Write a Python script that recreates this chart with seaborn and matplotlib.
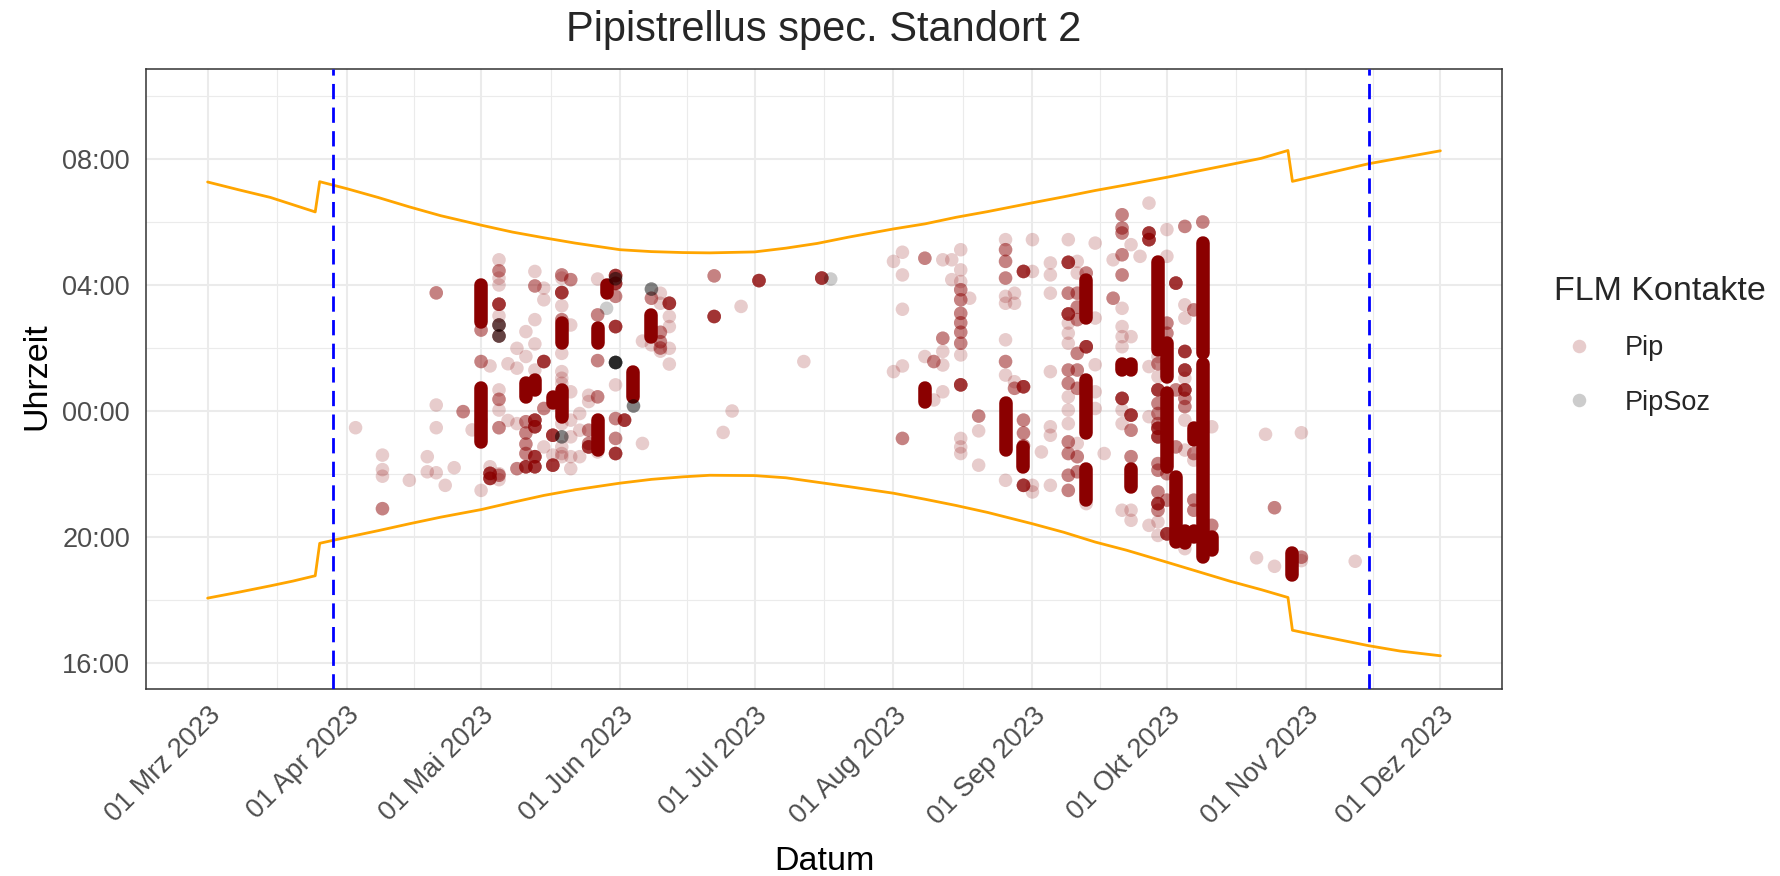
import numpy as np
import pandas as pd
import matplotlib
matplotlib.use("Agg")
import matplotlib.pyplot as plt
import matplotlib.dates as mdates
from matplotlib.lines import Line2D
import seaborn as sns

YEAR = "2023-"

# ---------------- data ----------------
# time axis: hours, times after midnight are shown as 24 + h (00:00 = 24, 04:00 = 28)
sun_dates = ["03-01", "03-08", "03-15", "03-20", "03-25", "03-26", "04-01", "04-08", "04-15",
             "04-22", "05-01", "05-08", "05-15", "05-22", "06-01", "06-08", "06-15", "06-21",
             "07-01", "07-08", "07-15", "07-22", "08-01", "08-08", "08-15", "08-22", "09-01",
             "09-08", "09-15", "09-22", "10-01", "10-08", "10-15", "10-22", "10-28", "10-29",
             "11-01", "11-08", "11-15", "11-22", "12-01"]
sunrise = [31.27, 31.02, 30.78, 30.55, 30.32, 31.28, 31.06, 30.78, 30.48,
           30.20, 29.90, 29.68, 29.50, 29.33, 29.12, 29.06, 29.03, 29.02,
           29.05, 29.17, 29.32, 29.52, 29.78, 29.94, 30.15, 30.33, 30.61,
           30.80, 31.00, 31.18, 31.42, 31.62, 31.82, 32.02, 32.27, 31.29,
           31.39, 31.62, 31.85, 32.03, 32.26]
sunset = [18.06, 18.25, 18.45, 18.60, 18.77, 19.80, 19.99, 20.20, 20.42,
          20.63, 20.87, 21.10, 21.32, 21.50, 21.71, 21.83, 21.91, 21.96,
          21.95, 21.88, 21.74, 21.60, 21.39, 21.20, 21.00, 20.78, 20.42,
          20.15, 19.84, 19.58, 19.20, 18.90, 18.60, 18.33, 18.08, 17.04,
          16.95, 16.75, 16.55, 16.38, 16.23]

season_lines = ["03-29", "11-15"]

month_starts = ["03-01", "04-01", "05-01", "06-01", "07-01", "08-01", "09-01", "10-01", "11-01", "12-01"]
month_labels = ["01 Mrz 2023", "01 Apr 2023", "01 Mai 2023", "01 Jun 2023", "01 Jul 2023",
                "01 Aug 2023", "01 Sep 2023", "01 Okt 2023", "01 Nov 2023", "01 Dez 2023"]
ytick_values = [16, 20, 24, 28, 32]
ytick_labels = ["16:00", "20:00", "00:00", "04:00", "08:00"]
ytick_minor = [18, 22, 26, 30, 34]

# Pip contacts per night: (time, number of overlapping contacts)
pip_nights = ["04-03", "04-09", "04-15", "04-19", "04-21", "04-23", "04-25", "04-27", "04-29",
              "05-01", "05-03", "05-05", "05-07", "05-09", "05-11", "05-13", "05-15", "05-17",
              "05-19", "05-21", "05-23", "05-25", "05-27", "05-31", "06-02", "06-06", "06-08",
              "06-10", "06-12", "06-22", "06-24", "06-26", "06-28", "07-02", "07-12", "07-16",
              "08-01", "08-03", "08-08", "08-10", "08-12", "08-14", "08-16", "08-18", "08-20",
              "08-26", "08-28", "08-30", "09-01", "09-03", "09-05", "09-09", "09-11", "09-13",
              "09-15", "09-17", "09-19", "09-21", "09-23", "09-25", "09-27", "09-29", "10-01",
              "10-03", "10-05", "10-07", "10-09", "10-11", "10-21", "10-23", "10-25", "10-31",
              "11-12"]
pip_contacts = [
    [(23.47, 1)],
    [(22.60, 1), (22.14, 1), (21.93, 1), (20.90, 3)],
    [(21.80, 1)],
    [(22.55, 1), (22.07, 1)],
    [(22.04, 1), (24.19, 1), (23.47, 1), (27.75, 3)],
    [(21.64, 1)],
    [(22.20, 1)],
    [(23.98, 3)],
    [(23.40, 1)],
    [(21.48, 1), (23.70, 1), (26.57, 3), (25.57, 3)],
    [(25.43, 1), (22.23, 1), (21.86, 7), (22.02, 7)],
    [(28.80, 1), (28.22, 1), (28.00, 1), (27.02, 1), (24.67, 1), (24.03, 1), (22.01, 1), (21.82, 1),
     (28.45, 3), (24.37, 3), (23.47, 3), (21.96, 3), (27.39, 7), (26.73, 3), (26.38, 3)],
    [(25.50, 1), (23.70, 1)],
    [(25.99, 1), (25.36, 1), (23.60, 1), (22.17, 3)],
    [(26.52, 1), (25.73, 1), (23.66, 3), (23.30, 3), (22.95, 3), (22.65, 3), (22.23, 7)],
    [(28.43, 1), (26.90, 1), (26.13, 1), (25.30, 1), (27.97, 3), (23.71, 7), (23.50, 7), (22.55, 7), (22.23, 7)],
    [(27.90, 1), (27.53, 1), (22.86, 1), (24.08, 3), (25.57, 7)],
    [(22.60, 1), (23.23, 7), (22.28, 7)],
    [(28.22, 1), (27.34, 1), (25.83, 1), (25.25, 1), (25.04, 1), (24.88, 1), (23.60, 1), (22.86, 1),
     (22.65, 1), (22.55, 1), (28.32, 3), (26.90, 3), (27.76, 7)],
    [(28.17, 3), (26.73, 1), (24.61, 1), (23.71, 1), (23.18, 1), (22.55, 1), (22.17, 1)],
    [(23.92, 1), (23.39, 1), (22.55, 1)],
    [(24.50, 1), (24.30, 1), (23.39, 3), (22.97, 3), (22.86, 7)],
    [(28.19, 1), (22.70, 1), (27.05, 3), (25.60, 3), (24.45, 3)],
    [(28.30, 7), (28.05, 7), (26.68, 7), (22.65, 7), (27.64, 3), (23.76, 3), (23.13, 3), (24.83, 1)],
    [(23.71, 7)],
    [(26.22, 1), (22.97, 1)],
    [(27.58, 3), (26.10, 1)],
    [(27.74, 1), (27.42, 1), (25.90, 1), (26.50, 3), (26.20, 3), (26.00, 3)],
    [(27.42, 7), (27.00, 1), (26.68, 1), (25.99, 1), (25.49, 1)],
    [(28.29, 3), (27.00, 7)],
    [(23.32, 1)],
    [(24.00, 1)],
    [(27.32, 1)],
    [(28.14, 7)],
    [(25.57, 1)],
    [(28.22, 7)],
    [(28.75, 1), (25.25, 1)],
    [(29.04, 1), (28.32, 1), (27.23, 1), (25.43, 1), (23.13, 3)],
    [(28.85, 3), (25.73, 1)],
    [(25.57, 3), (24.35, 1)],
    [(28.80, 1), (25.89, 1), (25.46, 1), (24.61, 1), (26.31, 3)],
    [(28.80, 1), (28.17, 1)],
    [(29.12, 1), (28.48, 1), (28.11, 1), (25.78, 1), (23.13, 1), (22.86, 1), (22.65, 1), (27.85, 3),
     (27.53, 3), (27.10, 3), (26.80, 3), (26.50, 3), (26.15, 3), (24.83, 7)],
    [(27.58, 1)],
    [(23.84, 3), (23.37, 1), (22.28, 1)],
    [(29.44, 1), (27.64, 1), (27.42, 1), (26.26, 1), (25.14, 1), (21.80, 1), (29.12, 3), (28.75, 3),
     (28.22, 3), (25.57, 3)],
    [(27.74, 1), (27.42, 1), (24.93, 1), (24.72, 3)],
    [(28.43, 7), (24.77, 7), (21.64, 7), (23.71, 3), (23.30, 3), (22.90, 3)],
    [(29.44, 1), (28.43, 1), (21.64, 1), (21.43, 1)],
    [(22.70, 1)],
    [(28.70, 1), (28.32, 1), (27.74, 1), (25.25, 1), (23.50, 1), (23.23, 1), (21.64, 1)],
    [(29.44, 1), (26.79, 1), (26.47, 1), (26.15, 1), (24.45, 1), (24.03, 1), (23.60, 1), (28.72, 7),
     (27.08, 7), (27.74, 3), (25.30, 3), (24.88, 3), (23.02, 3), (22.65, 3), (21.96, 3), (21.48, 3)],
    [(28.75, 1), (28.38, 1), (22.97, 1), (27.74, 3), (27.30, 3), (26.90, 3), (25.83, 3), (25.30, 3),
     (24.72, 3), (22.55, 3), (22.07, 3)],
    [(28.38, 3), (26.04, 7), (21.06, 1)],
    [(29.33, 1), (26.95, 1), (25.47, 1), (24.61, 1), (24.08, 1)],
    [(22.65, 1)],
    [(28.80, 1), (27.58, 3)],
    [(30.23, 3), (29.81, 3), (29.65, 3), (28.96, 3), (28.32, 3), (27.26, 1), (26.68, 1), (26.36, 1),
     (26.04, 1), (24.03, 1), (23.60, 1), (20.85, 1), (24.40, 7)],
    [(23.87, 7), (23.39, 3), (22.55, 3), (20.85, 1), (20.53, 1), (29.28, 1), (26.36, 1)],
    [(28.91, 1)],
    [(30.60, 1), (25.41, 1), (23.82, 1), (20.37, 1), (29.65, 7), (29.44, 7)],
    [(24.67, 7), (23.45, 7), (23.18, 7), (21.06, 7), (25.50, 3), (24.24, 3), (23.92, 3), (23.60, 3),
     (22.33, 3), (22.12, 3), (21.43, 3), (20.85, 3), (25.73, 1), (25.09, 1), (20.48, 1), (20.05, 1)],
    [(29.76, 1), (28.91, 1), (26.79, 3), (26.47, 3), (22.01, 3), (21.17, 3), (20.10, 7)],
    [(28.06, 7), (24.67, 3), (22.86, 3)],
    [(29.86, 3), (27.37, 1), (26.95, 1), (25.04, 1), (23.71, 1), (22.76, 1), (19.63, 1), (25.89, 7),
     (25.30, 7), (24.67, 7), (24.40, 3), (24.14, 3)],
    [(27.21, 3), (22.65, 3), (22.44, 1), (21.17, 3), (20.85, 3)],
    [(30.00, 3)],
    [(23.50, 1), (20.37, 3)],
    [(19.34, 1)],
    [(23.26, 1)],
    [(20.93, 3), (19.07, 1)],
    [(23.31, 1), (19.25, 1), (19.36, 3)],
    [(19.23, 1)],
]

# nights with continuous Pip activity (dense runs of contacts): start / end time
burst_dates = ["05-01", "05-01", "05-11", "05-13", "05-17", "05-19", "05-19", "05-27", "05-27",
               "05-29", "06-04", "06-08", "08-08", "08-26", "08-30", "09-13", "09-13", "09-13",
               "09-21", "09-23", "09-23", "09-29", "10-01", "10-01", "10-03", "10-05", "10-07",
               "10-07", "10-09", "10-09", "10-11", "10-29"]
burst_start = [26.84, 23.02, 24.45, 24.67, 24.24, 26.15, 23.82, 26.15, 22.76, 27.74, 24.45, 26.36,
               24.30, 22.76, 22.23, 26.95, 23.29, 21.17, 25.30, 25.30, 21.60, 25.94, 25.09, 22.23,
               19.84, 19.80, 23.07, 20.00, 25.83, 19.36, 19.60, 18.79]
burst_end = [28.00, 24.72, 24.88, 24.98, 24.45, 26.79, 24.67, 26.63, 23.71, 28.00, 25.25, 27.05,
             24.72, 24.24, 22.86, 28.17, 24.98, 22.17, 25.50, 25.50, 22.17, 28.72, 26.15, 24.56,
             21.90, 20.20, 23.45, 20.20, 29.33, 25.50, 20.00, 19.50]

# PipSoz contacts
psoz_dates = ["05-05", "05-05", "05-19", "05-29", "05-31", "05-31", "06-04", "06-08", "07-18"]
psoz_times = [26.73, 26.38, 23.18, 27.26, 28.20, 25.54, 24.16, 27.87, 28.19]
psoz_n = [3, 3, 3, 1, 3, 8, 3, 3, 1]

# ---------------- build tables ----------------
def to_dt(md):
    return pd.Timestamp(YEAR + md)

rows = []
for night, contacts in zip(pip_nights, pip_contacts):
    for t, n in contacts:
        rows.append((to_dt(night), t, "Pip", n))
for d, t, n in zip(psoz_dates, psoz_times, psoz_n):
    rows.append((to_dt(d), t, "PipSoz", n))
df = pd.DataFrame(rows, columns=["Datum", "Uhrzeit", "Art", "n"])
df = df.loc[df.index.repeat(df["n"])].reset_index(drop=True)

sun = pd.DataFrame({"Datum": [to_dt(d) for d in sun_dates], "Aufgang": sunrise, "Untergang": sunset})

# ---------------- style ----------------
sns.set_style("white")
plt.rcParams["font.family"] = ["Liberation Sans", "DejaVu Sans"]

W, H = 1780, 876
fig = plt.figure(figsize=(W / 100, H / 100), dpi=100)
L, R, T, B = 146, 1502, 69, 689
ax = fig.add_axes([L / W, 1 - B / H, (R - L) / W, (B - T) / H])

DARKRED = "#8B0000"
MS = 95  # marker area (pt^2)
TICK_FS = 19.5
TITLE_FS = 24.5

# sunrise / sunset
sns.lineplot(data=sun, x="Datum", y="Aufgang", color="orange", lw=2.0, estimator=None, sort=False, ax=ax, zorder=2)
sns.lineplot(data=sun, x="Datum", y="Untergang", color="orange", lw=2.0, estimator=None, sort=False, ax=ax, zorder=2)

# dense activity runs
bx = mdates.date2num([to_dt(d) for d in burst_dates])
lc = ax.vlines(bx, burst_start, burst_end, color=DARKRED, lw=np.sqrt(MS), zorder=3)
lc.set_capstyle("round")

# contacts
sns.scatterplot(data=df, x="Datum", y="Uhrzeit", hue="Art",
                palette={"Pip": DARKRED, "PipSoz": "black"}, alpha=0.2, s=MS,
                linewidth=0, legend=False, ax=ax, zorder=4)

# season boundaries
for d in season_lines:
    ax.axvline(mdates.date2num(to_dt(d)), color="blue", lw=2.0, dashes=(5.5, 3.0), zorder=5)

# axes
x0 = mdates.date2num(to_dt("03-01"))
x1 = mdates.date2num(to_dt("12-01"))
pad = 0.05 * (x1 - x0)
ax.set_xlim(x0 - pad, x1 + pad)
ax.set_ylim(15.175, 34.857)

mx = mdates.date2num([to_dt(m) for m in month_starts])
ax.set_xticks(mx)
ax.set_xticklabels(month_labels, rotation=45, ha="right", va="top", rotation_mode="anchor")
ax.set_xticks((mx[:-1] + mx[1:]) / 2, minor=True)
ax.set_yticks(ytick_values)
ax.set_yticklabels(ytick_labels)
ax.set_yticks(ytick_minor, minor=True)

ax.grid(which="major", color="#EBEBEB", lw=1.5)
ax.grid(which="minor", color="#EBEBEB", lw=0.8)
ax.set_axisbelow(True)

ax.tick_params(which="major", length=6.5, width=1.1, color="#333333",
               labelsize=TICK_FS, labelcolor="#4D4D4D")
ax.tick_params(axis="y", pad=5)
ax.tick_params(axis="x", pad=3)
ax.tick_params(which="minor", length=0)
for s in ax.spines.values():
    s.set_color("#333333")
    s.set_linewidth(1.1)

ax.set_xlabel("Datum", fontsize=TITLE_FS, color="black")
ax.set_ylabel("Uhrzeit", fontsize=TITLE_FS, color="black")
ax.xaxis.label.set_va("center")
ax.yaxis.label.set_va("center")
ax.xaxis.set_label_coords(0.5, (B - 861) / (B - T))
ax.yaxis.set_label_coords((37 - L) / (R - L), (B - 376) / (B - T))

ax.set_title("Pipistrellus spec. Standort 2", fontsize=30, pad=20)

handles = [
    Line2D([0], [0], marker="o", ls="", markersize=np.sqrt(MS), markeredgewidth=0,
           markerfacecolor=(139 / 255, 0, 0, 0.2)),
    Line2D([0], [0], marker="o", ls="", markersize=np.sqrt(MS), markeredgewidth=0,
           markerfacecolor=(0, 0, 0, 0.2)),
]
fig.legend(handles, ["Pip", "PipSoz"], title="FLM Kontakte", loc="upper left",
           bbox_to_anchor=(1554 / W, 1 - 276 / H), frameon=False, fontsize=TICK_FS,
           title_fontsize=TITLE_FS, handlelength=1.85, handletextpad=0.75, labelspacing=1.05,
           borderpad=0, borderaxespad=0, alignment="left")

fig.savefig("out.png", dpi=100)
